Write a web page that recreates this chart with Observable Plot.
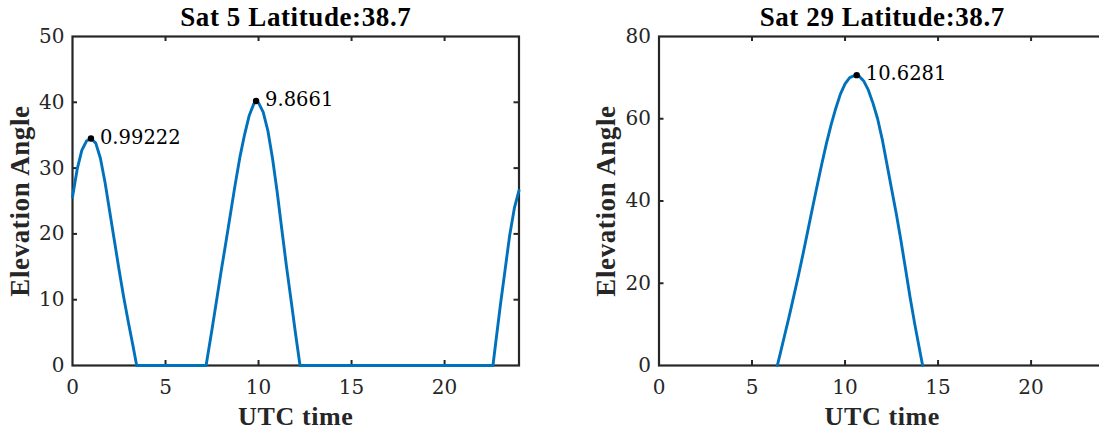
<!DOCTYPE html>
<html>
<head>
<meta charset="utf-8">
<script src="https://cdn.jsdelivr.net/npm/d3@7"></script>
<script src="https://cdn.jsdelivr.net/npm/@observablehq/plot@0.6"></script>
<style>
  html, body { margin: 0; padding: 0; background: #fff; }
  #wrap { position: relative; width: 1099px; height: 430px; overflow: hidden; }
  .panel { position: absolute; top: 0; width: 560px; height: 430px; }
  .panel svg { max-width: none !important; width: 560px; height: 430px; }
  .panel svg g[font-weight="bold"] text { letter-spacing: 0.6px; }
</style>
</head>
<body>
<div id="wrap">
  <div id="p1" class="panel" style="left:0px"></div>
  <div id="p2" class="panel" style="left:585px"></div>
</div>
<script>
// Elevation angle (deg) of each satellite over one UTC day, latitude 38.7
const sat5Time = [0, 0.25, 0.5, 0.75, 0.99222, 1.25, 1.5, 1.75, 2, 2.25, 2.5, 2.75, 3, 3.25, 3.45,
  7.18, 7.5, 7.75, 8, 8.25, 8.5, 8.75, 9, 9.25, 9.5, 9.75, 9.8661, 10, 10.25, 10.5, 10.75, 11, 11.25, 11.5, 11.75, 12, 12.23,
  22.6, 22.75, 23, 23.25, 23.5, 23.75, 24];
const sat5Elev = [25.6, 29.8, 32.7, 34.1, 34.5, 33.8, 31.5, 27.8, 23.4, 19, 14.6, 10.4, 6.6, 3, 0,
  0, 5.5, 10, 14.5, 18.8, 23.2, 27.6, 31.7, 35.1, 38, 39.8, 40.2, 39.9, 38.5, 35.7, 31.5, 26.4, 20.7, 15.1, 9.9, 4.6, 0,
  0, 3.5, 9.2, 14.5, 19.8, 23.9, 26.6];
const sat5PeakTime = [0.99222, 9.8661];
const sat5PeakElev = [34.5, 40.2];

const sat29Time = [6.36, 6.5, 6.75, 7, 7.25, 7.5, 7.75, 8, 8.25, 8.5, 8.75, 9, 9.25, 9.5, 9.75, 10, 10.25, 10.5,
  10.6281, 10.75, 11, 11.25, 11.5, 11.75, 12, 12.25, 12.5, 12.75, 13, 13.25, 13.5, 13.75, 14, 14.17];
const sat29Elev = [0, 2.6, 7.3, 12, 17, 22, 27.3, 32.8, 38.3, 43.7, 49, 54, 58.5, 62.5, 66, 68.5, 70, 70.5,
  70.6, 70.4, 69.2, 67, 63.8, 60, 55, 49, 43, 37, 30.5, 23.5, 16.5, 10, 4, 0];
const sat29PeakTime = [10.6281];
const sat29PeakElev = [70.6];

const xTicks = [0, 5, 10, 15, 20];
const sat5YTicks = [0, 10, 20, 30, 40, 50];
const sat29YTicks = [0, 20, 40, 60, 80];

const titles = ["Sat 5 Latitude:38.7", "Sat 29 Latitude:38.7"];
const xLabel = "UTC time";
const yLabel = "Elevation Angle";

const ink = "#262626";
const lineBlue = "#0072BD";
const serif = "'Liberation Serif', 'Times New Roman', serif";
const numFont = "'DejaVu Serif', serif";
const W = 560, H = 430, MT = 36, MB = 65;

function panel({title, time, elev, peakTime, peakElev, yMax, yTicks, marginLeft, marginRight}) {
  const rows = time.map((t, i) => ({t, e: elev[i]}));
  const peaks = peakTime.map((t, i) => ({t, e: peakElev[i], label: String(t)}));
  const innerW = W - marginLeft - marginRight;
  const innerH = H - MT - MB;
  const tick = 5;
  const xInner = xTicks.filter(v => v > 0 && v < 24);
  const yInner = yTicks.filter(v => v > 0 && v < yMax);
  return Plot.plot({
    width: W, height: H,
    marginTop: MT, marginBottom: MB, marginLeft, marginRight,
    x: {domain: [0, 24]},
    y: {domain: [0, yMax]},
    style: {fontFamily: serif, fontSize: "20px", color: ink, background: "#fff", overflow: "visible"},
    marks: [
      Plot.frame({stroke: ink, strokeWidth: 2.2}),
      // inward ticks on all four sides
      Plot.ruleX(xInner, {x: d => d, insetTop: innerH - tick, stroke: ink, strokeWidth: 2}),
      Plot.ruleX(xInner, {x: d => d, insetBottom: innerH - tick, stroke: ink, strokeWidth: 2}),
      Plot.ruleY(yInner, {y: d => d, insetRight: innerW - tick, stroke: ink, strokeWidth: 2}),
      Plot.ruleY(yInner, {y: d => d, insetLeft: innerW - tick, stroke: ink, strokeWidth: 2}),
      Plot.axisX({ticks: xTicks, tickSize: 0, tickPadding: 14, label: null, fill: ink, fontFamily: numFont, fontSize: 20}),
      Plot.axisY({ticks: yTicks, tickSize: 0, tickPadding: 8, label: null, fill: ink, fontFamily: numFont, fontSize: 20}),
      Plot.line(rows, {x: "t", y: "e", stroke: lineBlue, strokeWidth: 2.9, strokeLinejoin: "round"}),
      Plot.dot(peaks, {x: "t", y: "e", r: 3.2, fill: "#000", stroke: null}),
      Plot.text(peaks, {x: "t", y: "e", text: "label", dx: 9, dy: -1, textAnchor: "start", fontSize: 19.5, fontFamily: numFont, fill: "#000"}),
      Plot.text([title], {frameAnchor: "top", dy: -11, lineAnchor: "bottom", fontWeight: "bold", fontSize: 27, fontFamily: serif, fill: "#000"}),
      Plot.text([xLabel], {frameAnchor: "bottom", dy: 59, lineAnchor: "bottom", fontWeight: "bold", fontSize: 26, fontFamily: serif, fill: ink}),
      Plot.text([yLabel], {frameAnchor: "left", dx: -44, rotate: -90, textAnchor: "middle", lineAnchor: "bottom", fontWeight: "bold", fontSize: 27, fontFamily: serif, fill: ink})
    ]
  });
}

document.getElementById("p1").append(panel({
  title: titles[0], time: sat5Time, elev: sat5Elev, peakTime: sat5PeakTime, peakElev: sat5PeakElev,
  yMax: 50, yTicks: sat5YTicks, marginLeft: 72, marginRight: 41.5
}));
document.getElementById("p2").append(panel({
  title: titles[1], time: sat29Time, elev: sat29Elev, peakTime: sat29PeakTime, peakElev: sat29PeakElev,
  yMax: 80, yTicks: sat29YTicks, marginLeft: 73.5, marginRight: 40
}));
</script>
</body>
</html>
